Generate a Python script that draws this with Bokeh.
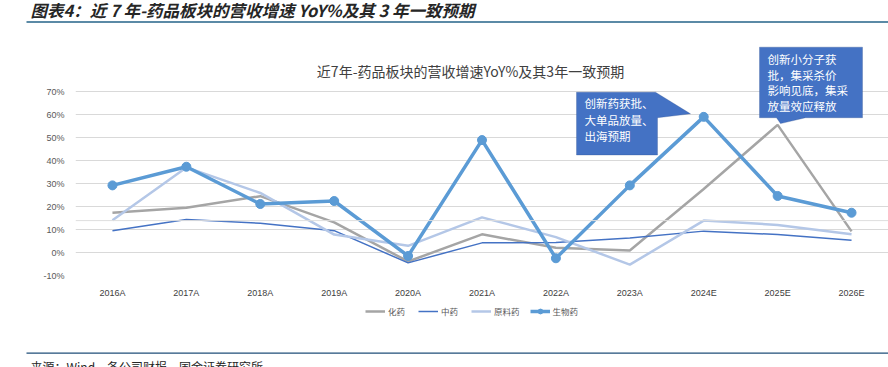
from bokeh.plotting import figure
from bokeh.layouts import column
from bokeh.models import (FactorRange, Range1d, FixedTicker, NumeralTickFormatter, Label,
                          PolyAnnotation, Legend, LegendItem, Span, ColumnDataSource)
from bokeh.core.properties import value
from bokeh.embed import file_html
from bokeh.resources import INLINE

years = ["2016A", "2017A", "2018A", "2019A", "2020A", "2021A", "2022A", "2023A", "2024E", "2025E", "2026E"]
chem = [0.173, 0.195, 0.245, 0.131, -0.039, 0.079, 0.021, 0.009, 0.276, 0.555, 0.092]   # 化药
tcm = [0.095, 0.144, 0.127, 0.095, -0.045, 0.042, 0.043, 0.063, 0.093, 0.078, 0.053]    # 中药
api = [0.140, 0.370, 0.259, 0.078, 0.029, 0.153, 0.067, -0.053, 0.139, 0.120, 0.079]    # 原料药
bio = [0.292, 0.373, 0.211, 0.224, -0.015, 0.489, -0.025, 0.292, 0.590, 0.246, 0.173]   # 生物药
y_ticks = [-0.1, 0.0, 0.1, 0.2, 0.3, 0.4, 0.5, 0.6, 0.7]
series_names = ["化药", "中药", "原料药", "生物药"]

header = "图表4：近 7 年-药品板块的营收增速 YoY%及其 3 年一致预期"
chart_title = "近7年-药品板块的营收增速YoY%及其3年一致预期"
note1 = ["创新药获批、", "大单品放量、", "出海预期"]
note2 = ["创新小分子获", "批，集采杀价", "影响见底，集采", "放量效应释放"]
source_text = "来源：Wind，各公司财报，国金证券研究所"

W = 888
CJK = "Noto Sans CJK SC"
LAT = "Liberation Sans"
C_CHEM, C_TCM, C_API, C_BIO = "#a5a5a5", "#4472c4", "#b4c7e7", "#5b9bd5"
BOX_FILL, BOX_LINE = "#4472c4", "#2f4f8f"

# ---------------- header strip (page y 0..30) ----------------
h1 = figure(width=W, height=30, x_range=Range1d(0, W), y_range=Range1d(30, 0),
            output_backend="svg", toolbar_location=None, x_axis_location=None,
            y_axis_location=None, min_border=0, outline_line_color=None, frame_align=False)
h1.grid.visible = False
h1.text(x=[30], y=[-3], text=[header], text_font=value(CJK), text_font_size="16.5px",
        text_font_style="bold italic", text_color="#262626", text_baseline="top",
        text_align="left")
h1.quad(left=[26], right=[W], top=[20.5], bottom=[22.5], fill_color="#5b8aa6",
        line_color=None)

# ---------------- main chart (page y 30..300) ----------------
FRAME_L, FRAME_R, FRAME_T, FRAME_B = 75, 888, 30, 280
PX_PER_UNIT = 234.6
y_lo = -0.10
y_hi = y_lo + (FRAME_B - FRAME_T) / PX_PER_UNIT
cat_w = (FRAME_R - FRAME_L) / len(years)


def dx(px):
    return (px - FRAME_L) / cat_w


def dy(py):
    return y_lo + (FRAME_B - py) / PX_PER_UNIT


src = ColumnDataSource(dict(x=years, chem=chem, tcm=tcm, api=api, bio=bio))

p = figure(width=W, height=270, x_range=FactorRange(*years, range_padding=0),
           y_range=Range1d(y_lo, y_hi), output_backend="svg", toolbar_location=None,
           min_border_left=FRAME_L, min_border_right=0, min_border_top=0,
           min_border_bottom=300 - FRAME_B, outline_line_color=None, frame_align=False)

p.xgrid.grid_line_color = None
p.ygrid.grid_line_color = "#d9d9d9"
p.ygrid.grid_line_width = 1
p.yaxis.ticker = FixedTicker(ticks=y_ticks)
p.yaxis.formatter = NumeralTickFormatter(format="0%")
for ax in (p.xaxis[0], p.yaxis[0]):
    ax.axis_line_color = None
    ax.major_tick_line_color = None
    ax.minor_tick_line_color = None
    ax.major_label_text_font = LAT
p.yaxis.major_label_text_font_size = "9px"
p.yaxis.major_label_text_color = "#595959"
p.yaxis.major_label_standoff = 5
p.xaxis.major_label_text_font_size = "9px"
p.xaxis.major_label_text_color = "#404040"
p.xaxis.major_label_standoff = 6

p.add_layout(Span(location=dy(224), dimension="width", line_color="#dedede", line_width=1))

p.line("x", "chem", source=src, line_color=C_CHEM, line_width=2.5)
p.line("x", "tcm", source=src, line_color=C_TCM, line_width=1.5)
p.line("x", "api", source=src, line_color=C_API, line_width=2.5)
p.line("x", "bio", source=src, line_color=C_BIO, line_width=3.5)
p.scatter("x", "bio", source=src, size=9, fill_color=C_BIO, line_color=C_BIO)

p.add_layout(Label(x=dx(470), y=dy(71), text=chart_title, text_font=CJK,
                   text_font_size="14px", text_color="#404040",
                   text_baseline="middle", text_align="center"))

c1x = [576, 655, 690, 657, 657, 576]
c1y = [93, 93, 115, 119, 157, 157]
p.add_layout(PolyAnnotation(xs=[dx(v) for v in c1x], ys=[dy(v) for v in c1y],
                            fill_color=BOX_FILL, fill_alpha=1, line_color=BOX_LINE,
                            line_width=1))
for i, t in enumerate(note1):
    p.add_layout(Label(x=dx(584), y=dy(104 + i * 17), text=t, text_font=CJK,
                       text_font_size="11.5px", text_color="white",
                       text_baseline="middle", text_align="left"))

c2x = [759, 862, 862, 805, 780, 776, 759]
c2y = [47, 47, 119, 119, 125, 119, 119]
p.add_layout(PolyAnnotation(xs=[dx(v) for v in c2x], ys=[dy(v) for v in c2y],
                            fill_color=BOX_FILL, fill_alpha=1, line_color=BOX_LINE,
                            line_width=1))
for i, t in enumerate(note2):
    p.add_layout(Label(x=dx(767), y=dy(59 + i * 16), text=t, text_font=CJK,
                       text_font_size="11.5px", text_color="white",
                       text_baseline="middle", text_align="left"))

# ---------------- legend + source strip (page y 300..367) ----------------
HB = 67
f3 = figure(width=W, height=HB, x_range=Range1d(0, W), y_range=Range1d(HB, 0),
            output_backend="svg", toolbar_location=None, x_axis_location=None,
            y_axis_location=None, min_border=0, outline_line_color=None, frame_align=False)
f3.grid.visible = False
# legend-only renderers (single point placed outside the visible range)
off = dict(x=[-100], y=[-100])
l_chem = f3.line(line_color=C_CHEM, line_width=2.5, **off)
l_tcm = f3.line(line_color=C_TCM, line_width=1.5, **off)
l_api = f3.line(line_color=C_API, line_width=2.5, **off)
l_bio = f3.line(line_color=C_BIO, line_width=3.5, **off)
l_bio_m = f3.scatter(size=9, fill_color=C_BIO, line_color=C_BIO, **off)
legend = Legend(items=[LegendItem(label=series_names[0], renderers=[l_chem]),
                       LegendItem(label=series_names[1], renderers=[l_tcm]),
                       LegendItem(label=series_names[2], renderers=[l_api]),
                       LegendItem(label=series_names[3], renderers=[l_bio, l_bio_m])],
                orientation="horizontal", location=(365, HB - 11 - 6),
                label_text_font=CJK, label_text_font_size="8.5px", label_text_color="#595959",
                glyph_width=20, glyph_height=12, label_standoff=3, spacing=10,
                padding=0, margin=0, border_line_color=None, background_fill_alpha=0)
f3.add_layout(legend)
f3.quad(left=[26], right=[W], top=[52], bottom=[53.3], fill_color="#1f4e79", line_color=None)
f3.text(x=[30], y=[57], text=[source_text], text_font=value(CJK), text_font_size="12px",
        text_color="#262626", text_baseline="top", text_align="left")

layout = column(h1, p, f3, spacing=0)
open("out.html", "w").write(file_html(layout, INLINE))
